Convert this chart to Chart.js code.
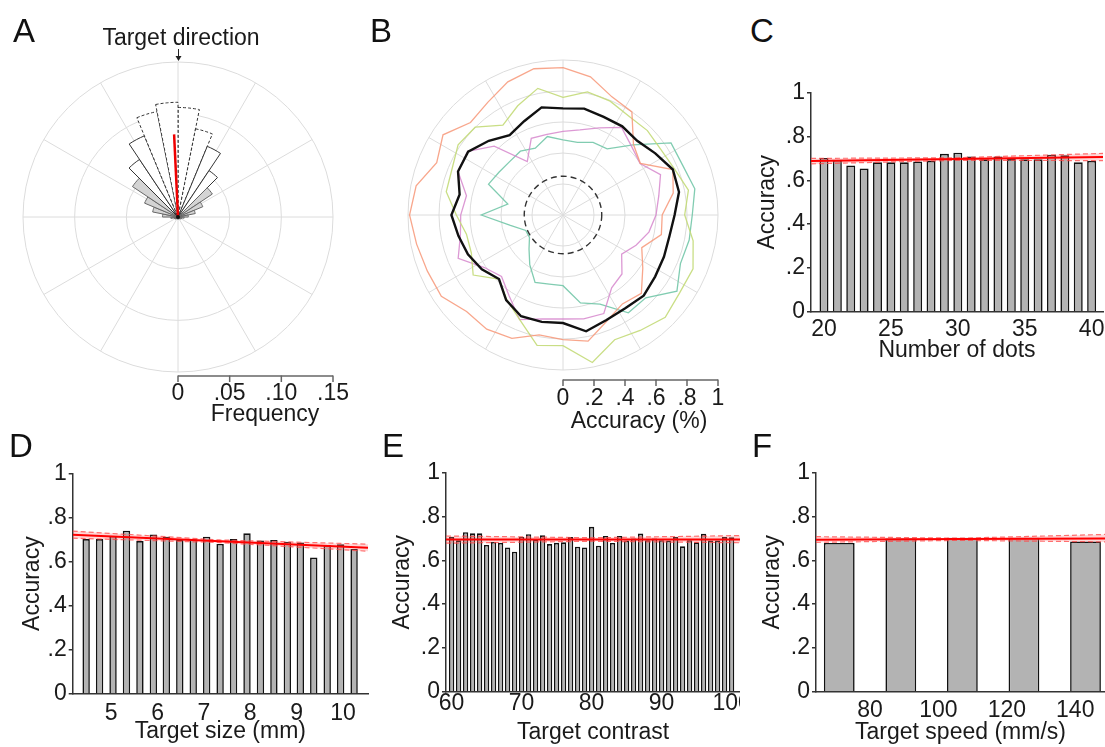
<!DOCTYPE html>
<html>
<head>
<meta charset="utf-8">
<script src="https://cdn.jsdelivr.net/npm/chart.js@4.4.1/dist/chart.umd.min.js"></script>
<style>
html,body{margin:0;padding:0;background:#fff;}
body{width:1105px;height:747px;position:relative;overflow:hidden;font-family:"Liberation Sans",Arial,sans-serif;}
canvas{position:absolute;display:block;}
.letter{position:absolute;font-size:33px;line-height:1;color:#111;font-family:"Liberation Sans",Arial,sans-serif;}
</style>
</head>
<body>
<canvas id="cA" width="370" height="430" style="left:0;top:0"></canvas>
<canvas id="cB" width="360" height="440" style="left:370px;top:0"></canvas>
<canvas id="cC" width="375" height="300" style="left:730px;top:70px"></canvas>
<canvas id="cD" width="370" height="327" style="left:0;top:420px"></canvas>
<canvas id="cE" width="370" height="327" style="left:370px;top:420px"></canvas>
<canvas id="cF" width="365" height="327" style="left:740px;top:420px"></canvas>
<div class="letter" style="left:13px;top:14px">A</div>
<div class="letter" style="left:370px;top:14px">B</div>
<div class="letter" style="left:750px;top:14px">C</div>
<div class="letter" style="left:9px;top:429px">D</div>
<div class="letter" style="left:382px;top:429px">E</div>
<div class="letter" style="left:752px;top:429px">F</div>
<script>
// ---------------- DATA ----------------
// Panel A: response-direction histogram, 32 bins (bin start angle, deg clockwise from target direction)
const binStartDeg = [0, 11.25, 22.5, 33.75, 45, 56.25, 67.5, 78.75, 90, 101.25, 112.5, 123.75, 135, 146.25, 157.5, 168.75,
                     180, 191.25, 202.5, 213.75, 225, 236.25, 247.5, 258.75, 270, 281.25, 292.5, 303.75, 315, 326.25, 337.5, 348.75];
const freqA = [0.106, 0.087, 0.074, 0.054, 0.040, 0.026, 0.017, 0.010, 0.006, 0.004, 0.003, 0.003, 0.002, 0.002, 0.002, 0.002,
               0.002, 0.002, 0.002, 0.002, 0.003, 0.003, 0.004, 0.007, 0.015, 0.025, 0.035, 0.053, 0.067, 0.085, 0.104, 0.111];
const meanDirA = -2.7;     // deg
const meanLenA = 0.080;
const freqTicks = [0, 0.05, 0.10, 0.15];
const freqTickText = ['0', '.05', '.10', '.15'];

// Panel B: accuracy by direction (same 32 directions, starting at top, clockwise)
const accMean   = [0.688, 0.700, 0.685, 0.688, 0.677, 0.716, 0.767, 0.763, 0.720, 0.700, 0.705, 0.715, 0.736, 0.723, 0.733, 0.765,
                   0.697, 0.703, 0.707, 0.660, 0.584, 0.630, 0.664, 0.688, 0.720, 0.680, 0.733, 0.736, 0.677, 0.620, 0.655, 0.708];
const accOrange = [0.951, 0.909, 0.825, 0.800, 0.643, 0.600, 0.767, 0.725, 0.640, 0.647, 0.550, 0.619, 0.715, 0.690, 0.740, 0.830,
                   0.804, 0.789, 0.862, 0.886, 0.880, 0.944, 0.947, 0.963, 0.990, 0.966, 0.882, 0.931, 0.844, 0.874, 0.930, 0.962];
const accGreen  = [0.759, 0.810, 0.795, 0.766, 0.770, 0.760, 0.778, 0.825, 0.785, 0.856, 0.908, 0.905, 0.933, 0.896, 0.871, 0.970,
                   0.843, 0.858, 0.730, 0.655, 0.585, 0.697, 0.640, 0.635, 0.688, 0.768, 0.775, 0.814, 0.801, 0.698, 0.763, 0.833];
const accPink   = [0.540, 0.560, 0.609, 0.680, 0.626, 0.598, 0.681, 0.630, 0.600, 0.565, 0.510, 0.455, 0.538, 0.565, 0.688, 0.683,
                   0.671, 0.683, 0.731, 0.626, 0.561, 0.610, 0.732, 0.675, 0.660, 0.635, 0.733, 0.740, 0.628, 0.415, 0.535, 0.530];
const accTeal   = [0.484, 0.478, 0.507, 0.513, 0.639, 0.838, 0.836, 0.867, 0.834, 0.830, 0.820, 0.884, 0.755, 0.759, 0.623, 0.578,
                   0.456, 0.455, 0.471, 0.386, 0.310, 0.260, 0.260, 0.346, 0.527, 0.363, 0.520, 0.497, 0.487, 0.495, 0.467, 0.516];
const chanceLevel = 0.25;
const accTicks = [0, 0.2, 0.4, 0.6, 0.8, 1];
const accTickText = ['0', '.2', '.4', '.6', '.8', '1'];
const spokeDeg = [0, 30, 60, 90, 120, 150, 180, 210, 240, 270, 300, 330];

// Shared y ticks for C-F
const yTickVals = [0, 0.2, 0.4, 0.6, 0.8, 1];
const yTickText = ['0', '.2', '.4', '.6', '.8', '1'];

// Panel C: number of dots
const dotsX = [20,21,22,23,24,25,26,27,28,29,30,31,32,33,34,35,36,37,38,39,40];
const dotsAcc = [0.702,0.693,0.668,0.654,0.682,0.682,0.682,0.686,0.689,0.721,0.726,0.709,0.696,0.709,0.697,0.696,0.696,0.717,0.714,0.682,0.689];
const dotsFitX = [19.03, 29.94, 40.85];
const dotsFit  = [0.688, 0.697, 0.706];
const dotsHi   = [0.700, 0.703, 0.723];
const dotsLo   = [0.675, 0.691, 0.690];
const dotsTicks = [20, 25, 30, 35, 40];

// Panel D: target size
const sizeX = [4.46,4.75,5.04,5.33,5.62,5.91,6.19,6.48,6.77,7.06,7.35,7.64,7.93,8.22,8.51,8.80,9.08,9.37,9.66,9.95,10.24];
const sizeAcc = [0.702,0.702,0.716,0.740,0.693,0.723,0.713,0.698,0.701,0.713,0.680,0.702,0.728,0.695,0.698,0.690,0.687,0.618,0.675,0.678,0.657];
const sizeFitX = [4.17, 7.35, 10.54];
const sizeFit  = [0.722, 0.692, 0.663];
const sizeHi   = [0.738, 0.698, 0.679];
const sizeLo   = [0.706, 0.686, 0.647];
const sizeTicks = [5, 6, 7, 8, 9, 10];

// Panel E: target contrast
const contrastX = [60,61,62,63,64,65,66,67,68,69,70,71,72,73,74,75,76,77,78,79,80,81,82,83,84,85,86,87,88,89,90,91,92,93,94,95,96,97,98,99,100];
const contrastAcc = [0.706,0.691,0.728,0.723,0.723,0.670,0.684,0.679,0.659,0.639,
                     0.708,0.719,0.694,0.714,0.674,0.680,0.682,0.706,0.662,0.659,
                     0.753,0.667,0.711,0.679,0.711,0.690,0.699,0.722,0.692,0.699,
                     0.692,0.690,0.706,0.664,0.692,0.682,0.721,0.690,0.690,0.706,0.705];
const contrastFitX = [59.2, 80.2, 101.2];
const contrastFit  = [0.695, 0.695, 0.695];
const contrastHi   = [0.711, 0.703, 0.713];
const contrastLo   = [0.678, 0.687, 0.680];
const contrastTicks = [60, 70, 80, 90, 100];

// Panel F: target speed
const speedX = [71, 89, 107, 125, 143];
const speedAcc = [0.679, 0.700, 0.703, 0.703, 0.686];
const speedFitX = [64.2, 106.45, 148.7];
const speedFit  = [0.694, 0.697, 0.700];
const speedHi   = [0.708, 0.701, 0.718];
const speedLo   = [0.682, 0.691, 0.684];
const speedTicks = [80, 100, 120, 140];

// ---------------- STYLE ----------------
const FONT = "'Liberation Sans', Arial, sans-serif";
const TXT = '#1a1a1a';
const FS = 23;
Chart.defaults.font.family = FONT;
Chart.defaults.color = TXT;

function spokes(chart) {
  const r = chart.scales.r, ctx = chart.ctx;
  ctx.save();
  ctx.strokeStyle = '#dcdcdc'; ctx.lineWidth = 1;
  spokeDeg.forEach(a => {
    const t = a * Math.PI / 180;
    ctx.beginPath();
    ctx.moveTo(r.xCenter, r.yCenter);
    ctx.lineTo(r.xCenter + r.drawingArea * Math.sin(t), r.yCenter - r.drawingArea * Math.cos(t));
    ctx.stroke();
  });
  ctx.restore();
}
function scaleBar(chart, vals, texts, title, barY, labelBase, titleX, titleBase) {
  const r = chart.scales.r, ctx = chart.ctx;
  const xs = vals.map(v => r.xCenter + r.getDistanceFromCenterForValue(v));
  ctx.save();
  ctx.strokeStyle = '#666'; ctx.lineWidth = 1.5;
  ctx.beginPath(); ctx.moveTo(xs[0], barY); ctx.lineTo(xs[xs.length - 1], barY); ctx.stroke();
  xs.forEach(x => { ctx.beginPath(); ctx.moveTo(x, barY - 0.5); ctx.lineTo(x, barY + 6); ctx.stroke(); });
  ctx.fillStyle = TXT; ctx.font = FS + 'px ' + FONT;
  ctx.textAlign = 'center'; ctx.textBaseline = 'alphabetic';
  texts.forEach((t, i) => ctx.fillText(t, xs[i], labelBase));
  ctx.fillText(title, titleX, titleBase);
  ctx.restore();
}
function binCenter(k) { let c = binStartDeg[k] + 5.625; if (c > 180) c -= 360; return Math.abs(c); }

// ---------------- PANEL A ----------------
new Chart(document.getElementById('cA'), {
  type: 'polarArea',
  data: {
    labels: binStartDeg.map(d => d + '°'),
    datasets: [{
      data: freqA,
      backgroundColor: c => binCenter(c.dataIndex) > 45 ? '#d4d4d4' : '#ffffff',
      borderColor: c => binCenter(c.dataIndex) > 45 ? '#666' : '#333',
      borderWidth: 1,
      borderDash: c => binCenter(c.dataIndex) < 22.5 ? [3, 2] : []
    }]
  },
  options: {
    responsive: false, animation: false,
    layout: { padding: { left: 23, top: 62, right: 37, bottom: 58 } },
    plugins: { legend: { display: false }, tooltip: { enabled: false } },
    scales: { r: {
      min: 0, max: 0.15,
      ticks: { display: false, stepSize: 0.05 },
      grid: { circular: true, color: '#dcdcdc', lineWidth: 1 },
      angleLines: { display: false },
      pointLabels: { display: false }
    } }
  },
  plugins: [{
    id: 'decorA',
    beforeDatasetsDraw: chart => spokes(chart),
    afterDatasetsDraw(chart) {
      const r = chart.scales.r, ctx = chart.ctx;
      const t = meanDirA * Math.PI / 180, d = r.getDistanceFromCenterForValue(meanLenA);
      ctx.save();
      ctx.strokeStyle = '#ee0000'; ctx.lineWidth = 2.5;
      ctx.beginPath(); ctx.moveTo(r.xCenter, r.yCenter);
      ctx.lineTo(r.xCenter + d * Math.sin(t), r.yCenter - d * Math.cos(t)); ctx.stroke();
      ctx.fillStyle = '#111';
      ctx.beginPath(); ctx.arc(r.xCenter, r.yCenter, 2, 0, Math.PI * 2); ctx.fill();
      ctx.restore();
    },
    afterDraw(chart) {
      const r = chart.scales.r, ctx = chart.ctx;
      scaleBar(chart, freqTicks, freqTickText, 'Frequency', 376, 400, 265, 421);
      ctx.save();
      ctx.fillStyle = TXT; ctx.font = FS + 'px ' + FONT; ctx.textAlign = 'center';
      ctx.fillText('Target direction', r.xCenter + 3, 45);
      ctx.strokeStyle = '#222'; ctx.lineWidth = 1;
      ctx.beginPath(); ctx.moveTo(r.xCenter + 0.5, 49); ctx.lineTo(r.xCenter + 0.5, 58); ctx.stroke();
      ctx.fillStyle = '#222';
      ctx.beginPath(); ctx.moveTo(r.xCenter - 2.5, 56); ctx.lineTo(r.xCenter + 3.5, 56); ctx.lineTo(r.xCenter + 0.5, 61); ctx.closePath(); ctx.fill();
      ctx.restore();
    }
  }]
});

// ---------------- PANEL B ----------------
const lineDs = (data, color, w) => ({ data, borderColor: color, borderWidth: w, fill: false, pointRadius: 0, pointHoverRadius: 0, tension: 0 });
new Chart(document.getElementById('cB'), {
  type: 'radar',
  data: {
    labels: binStartDeg.map(d => d + '°'),
    datasets: [
      lineDs(accMean, '#111111', 2.4),
      lineDs(accOrange, 'rgba(247,150,120,0.85)', 1.3),
      lineDs(accGreen, 'rgba(195,218,120,0.9)', 1.3),
      lineDs(accPink, 'rgba(214,135,205,0.85)', 1.3),
      lineDs(accTeal, 'rgba(115,198,168,0.9)', 1.3)
    ]
  },
  options: {
    responsive: false, animation: false,
    layout: { padding: { left: 38, top: 60, right: 12, bottom: 70 } },
    plugins: { legend: { display: false }, tooltip: { enabled: false } },
    scales: { r: {
      min: 0, max: 1,
      ticks: { display: false, stepSize: 0.2 },
      grid: { circular: true, color: '#dcdcdc', lineWidth: 1 },
      angleLines: { display: false },
      pointLabels: { display: false }
    } }
  },
  plugins: [{
    id: 'decorB',
    beforeDatasetsDraw(chart) {
      spokes(chart);
      const r = chart.scales.r, ctx = chart.ctx;
      ctx.save();
      ctx.strokeStyle = '#333'; ctx.lineWidth = 1.4; ctx.setLineDash([6, 4]);
      ctx.beginPath(); ctx.arc(r.xCenter, r.yCenter, r.getDistanceFromCenterForValue(chanceLevel), 0, Math.PI * 2); ctx.stroke();
      ctx.restore();
    },
    afterDraw(chart) {
      scaleBar(chart, accTicks, accTickText, 'Accuracy (%)', 380, 405, 269, 428);
    }
  }]
});

// ---------------- PANELS C-F ----------------
function barPanel(id, p) {
  new Chart(document.getElementById(id), {
    type: 'bar',
    data: { datasets: [
      { type: 'line', data: p.fitX.map((x, i) => ({ x, y: p.hi[i] })), borderColor: 'rgba(255,70,70,0.75)', borderWidth: 1.2,
        borderDash: [5, 3], pointRadius: 0, fill: false, tension: 0, order: 2 },
      { type: 'line', data: p.fitX.map((x, i) => ({ x, y: p.lo[i] })), borderColor: 'rgba(255,70,70,0.75)', borderWidth: 1.2,
        borderDash: [5, 3], pointRadius: 0, fill: '-1', backgroundColor: 'rgba(255,110,110,0.28)', tension: 0, order: 2 },
      { type: 'line', data: p.fitX.map((x, i) => ({ x, y: p.fit[i] })), borderColor: '#ff0000', borderWidth: 2,
        pointRadius: 0, fill: false, tension: 0, order: 1 },
      { type: 'bar', data: p.x.map((x, i) => ({ x, y: p.y[i] })), backgroundColor: '#b3b3b3', borderColor: '#111',
        borderWidth: 1.6, barPercentage: p.barPct, categoryPercentage: 1, order: 3 }
    ] },
    options: {
      responsive: false, animation: false,
      layout: { padding: { left: 0, top: p.padTop, right: p.padRight, bottom: 0 } },
      plugins: { legend: { display: false }, tooltip: { enabled: false } },
      scales: {
        x: {
          type: 'linear', min: p.xMin, max: p.xMax, offset: false,
          afterBuildTicks: s => { s.ticks = p.xTicks.map(v => ({ value: v })); },
          afterFit: s => { s.height = p.xAxisH; s.paddingLeft = 0; s.paddingRight = 0; },
          grid: { display: false, drawTicks: false },
          border: { display: true, color: '#333', width: 1.5 },
          ticks: { font: { size: FS }, color: TXT, padding: p.xTickPad, maxRotation: 0, autoSkip: false },
          title: { display: true, text: p.xTitle, font: { size: FS }, color: TXT, padding: { top: 0, bottom: p.xTitlePad } }
        },
        y: {
          min: 0, max: 1,
          afterBuildTicks: s => { s.ticks = yTickVals.map(v => ({ value: v })); },
          afterFit: s => { s.width = p.yAxisW; s.paddingTop = 0; s.paddingBottom = 0; },
          grid: { drawOnChartArea: false, drawTicks: true, tickLength: 4, color: '#333', lineWidth: 1.5 },
          border: { display: true, color: '#333', width: 1.5 },
          ticks: { font: { size: FS }, color: TXT, padding: 2, callback: (v, i) => yTickText[i] },
          title: { display: true, text: 'Accuracy', font: { size: FS }, color: TXT, padding: { top: p.yTitlePad, bottom: 0 } }
        }
      }
    }
  });
}

barPanel('cC', { x: dotsX, y: dotsAcc, fitX: dotsFitX, fit: dotsFit, hi: dotsHi, lo: dotsLo, xTicks: dotsTicks,
  xMin: 19.03, xMax: 40.85, xTitle: 'Number of dots', barPct: 0.67,
  padTop: 22.7, padRight: 2, yAxisW: 81, xAxisH: 58.3, xTickPad: 4, xTitlePad: 6, yTitlePad: 24 });
barPanel('cD', { x: sizeX, y: sizeAcc, fitX: sizeFitX, fit: sizeFit, hi: sizeHi, lo: sizeLo, xTicks: sizeTicks,
  xMin: 4.17, xMax: 10.54, xTitle: 'Target size (mm)', barPct: 0.57,
  padTop: 53.3, padRight: 2, yAxisW: 72.7, xAxisH: 53, xTickPad: 6, xTitlePad: 1.5, yTitlePad: 19 });
barPanel('cE', { x: contrastX, y: contrastAcc, fitX: contrastFitX, fit: contrastFit, hi: contrastHi, lo: contrastLo, xTicks: contrastTicks,
  xMin: 59.2, xMax: 101.2, xTitle: 'Target contrast', barPct: 0.76,
  padTop: 52.7, padRight: 0, yAxisW: 76, xAxisH: 55.3, xTickPad: -2, xTitlePad: 0.5, yTitlePad: 19 });
barPanel('cF', { x: speedX, y: speedAcc, fitX: speedFitX, fit: speedFit, hi: speedHi, lo: speedLo, xTicks: speedTicks,
  xMin: 64.2, xMax: 148.7, xTitle: 'Target speed (mm/s)', barPct: 0.5,
  padTop: 52.7, padRight: 0, yAxisW: 76, xAxisH: 55.3, xTickPad: 5.5, xTitlePad: 0.5, yTitlePad: 19 });
</script>
</body>
</html>
